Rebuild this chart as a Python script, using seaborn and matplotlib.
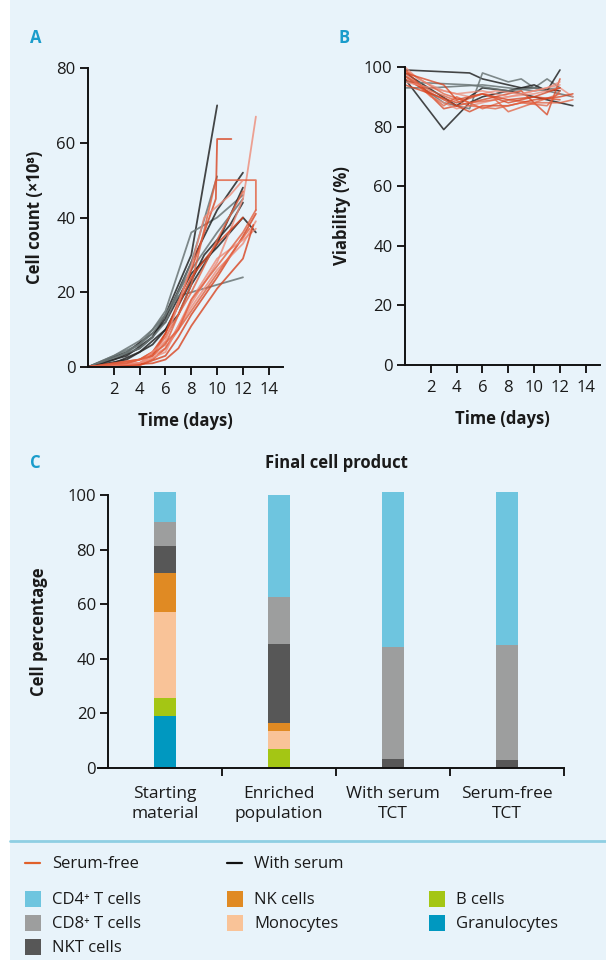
import pandas as pd
import seaborn as sns
import matplotlib.pyplot as plt
from matplotlib.patches import Rectangle
from matplotlib.lines import Line2D

# Panel A: cell count (x10^8) over time, one list per culture
serum_days = [
    [0, 2, 4, 5, 6, 8, 10],
    [0, 2, 4, 5, 6, 8, 10, 12],
    [0, 3, 5, 6, 8, 10, 12, 13],
    [0, 2, 4, 5, 7, 12],
    [0, 3, 5, 6, 8, 10, 12],
    [0, 4, 5, 6, 8, 10],
    [0, 3, 5, 7, 8, 10, 12],
    [0, 4, 5, 6, 8, 10, 12],
    [0, 2, 4, 6, 8, 9, 11, 12],
]
serum_counts = [
    [0, 2, 5, 8, 14, 30, 70],
    [0, 3, 7, 10, 15, 36, 40, 46],
    [0, 4, 9, 12, 25, 32, 40, 36],
    [0, 2, 6, 9, 19, 24],
    [0, 3, 8, 13, 28, 42, 52],
    [0, 5, 8, 12, 28, 51],
    [0, 2, 6, 14, 22, 33, 48],
    [0, 6, 10, 14, 26, 36, 45],
    [0, 1, 4, 10, 23, 30, 38, 44],
]
free_days = [
    [0, 4, 5, 6, 8, 9.9, 10, 11.1],
    [0, 4, 5, 6, 8, 10, 12, 12.3, 13],
    [0, 4, 6, 8, 9.9, 13, 13],
    [0, 4, 6, 7, 8, 10, 12, 13],
    [0, 4, 6, 8, 10, 12, 13],
    [0, 4, 5, 6, 8, 10, 12.5],
    [0, 3, 5, 6, 8, 10, 12],
    [0, 4, 6, 8, 10, 12, 13],
    [0, 4, 5, 6, 8, 10, 12],
    [0, 5, 6, 7, 8, 10, 12, 12.8],
    [0, 4, 6, 8, 9, 11, 12],
    [0, 3, 5, 7, 8, 10, 12, 13],
]
free_counts = [
    [0, 2, 4, 9, 26, 45, 61, 61],
    [0, 1, 2, 5, 17, 28, 45, 51, 67],
    [0, 1, 6, 22, 50, 50, 42],
    [0, 0.5, 3, 8, 14, 24, 35, 41],
    [0, 1, 5, 16, 26, 33, 39],
    [0, 0.5, 2, 5, 15, 25, 37],
    [0, 1, 3, 9, 24, 33, 40],
    [0, 1, 4, 18, 29, 34, 37],
    [0, 2, 4, 8, 20, 34, 47],
    [0, 1, 2, 5, 11, 21, 29, 38],
    [0, 1, 7, 27, 40, 46, 50],
    [0, 1, 3, 10, 18, 27, 36, 42],
]

# Panel B: viability (%)
serum_via_days = [
    [0, 5, 6, 8, 9, 10, 12],
    [0, 3, 5, 6, 8, 9, 10, 11, 12],
    [0, 3, 5, 6, 8, 10, 12, 13],
    [0, 2, 6, 8, 10, 12],
    [0, 4, 6, 8, 10, 11, 12],
    [0, 5, 8, 10, 12, 13],
]
serum_via = [
    [99, 98, 96, 94, 93, 93, 92],
    [97, 88, 86, 98, 95, 96, 93, 96, 93],
    [96, 79, 88, 90, 92, 90, 88, 87],
    [93, 93, 94, 93, 92, 93],
    [98, 87, 93, 92, 94, 92, 99],
    [95, 94, 92, 93, 91, 90],
]
free_via_days = [
    [0, 3, 5, 7, 9, 11, 12],
    [0, 2, 4, 6, 8, 10, 12, 13],
    [0, 3, 4, 6, 8, 10, 12],
    [0, 3, 5, 6, 8, 10, 12, 13],
    [0, 2, 4, 6, 8, 10, 12],
    [0, 3, 5, 7, 8, 10, 12, 13],
    [0, 4, 6, 8, 10, 12],
    [0, 1, 3, 5, 7, 9, 11, 12],
    [0, 2, 5, 7, 9, 11, 12],
    [0, 3, 4, 6, 8, 10, 12],
]
free_via = [
    [99, 86, 88, 90, 92, 84, 96],
    [98, 90, 86, 88, 90, 91, 93, 90],
    [97, 87, 90, 86, 89, 88, 91],
    [96, 89, 85, 87, 87, 89, 90, 91],
    [95, 93, 91, 92, 90, 92, 94],
    [99, 91, 88, 89, 85, 88, 88, 89],
    [94, 88, 91, 89, 90, 89],
    [100, 96, 92, 90, 92, 91, 93, 95],
    [97, 92, 87, 86, 88, 87, 92],
    [98, 94, 89, 91, 88, 90, 93],
]

# Panel C: final cell product composition (%)
samples = ['Starting\nmaterial', 'Enriched\npopulation', 'With serum\nTCT', 'Serum-free\nTCT']
cell_types = ['Granulocytes', 'B cells', 'Monocytes', 'NK cells', 'NKT cells',
              'CD8⁺ T cells', 'CD4⁺ T cells']
granulocytes = [19.0, 0, 0, 0]
b_cells = [6.5, 7.1, 0, 0]
monocytes = [31.8, 6.6, 0, 0]
nk_cells = [14.3, 2.9, 0, 0]
nkt_cells = [9.9, 29.0, 3.4, 3.1]
cd8_cells = [8.5, 17.2, 41.1, 42.1]
cd4_cells = [11.0, 37.1, 56.5, 55.8]

colors = {
    'CD4⁺ T cells': '#6ec5df',
    'CD8⁺ T cells': '#9d9e9e',
    'NKT cells': '#575757',
    'NK cells': '#e08a23',
    'Monocytes': '#f9c398',
    'B cells': '#a4c614',
    'Granulocytes': '#0098c0',
}
BG = '#e8f3fa'
TEAL = '#1a9ccb'
W, H = 606, 960
FS = 12

sns.set_theme(style='ticks')
plt.rcParams['font.family'] = ['Open Sans', 'DejaVu Sans']
plt.rcParams['text.color'] = '#1a1a1a'
plt.rcParams['axes.labelcolor'] = '#1a1a1a'
plt.rcParams['xtick.color'] = '#1a1a1a'
plt.rcParams['ytick.color'] = '#1a1a1a'

fig = plt.figure(figsize=(W / 100, H / 100), dpi=100, facecolor='white')
fig.patches.append(Rectangle((10 / W, 0), 1, 1, transform=fig.transFigure,
                             facecolor=BG, edgecolor='none', zorder=-10))


def box(left, top, right, bottom):
    return [left / W, 1 - bottom / H, (right - left) / W, (bottom - top) / H]


def style_axis(ax):
    ax.set_facecolor('none')
    sns.despine(ax=ax)
    for s in ['left', 'bottom']:
        ax.spines[s].set_linewidth(1.4)
        ax.spines[s].set_color('#111111')
    ax.tick_params(which='major', direction='out', length=6, width=1.4,
                   labelsize=FS, pad=3)
    ax.tick_params(axis='x', which='major', pad=5)


# ---- A ----
ax_a = fig.add_axes(box(88, 68, 283, 367))
dark = ['#262626', '#6b7676']
reds = ['#d8431f', '#ee8b78', '#e2603f']
for i, (d, v) in enumerate(zip(serum_days, serum_counts)):
    sns.lineplot(x=d, y=v, ax=ax_a, color=dark[i % 2], lw=1.3, alpha=0.85,
                 estimator=None, sort=False)
for i, (d, v) in enumerate(zip(free_days, free_counts)):
    sns.lineplot(x=d, y=v, ax=ax_a, color=reds[i % 3], lw=1.3, alpha=0.8,
                 estimator=None, sort=False)
ax_a.set_xlim(0, 15.1)
ax_a.set_ylim(0, 80)
ax_a.set_xticks(range(2, 15, 2))
ax_a.set_yticks(range(0, 81, 20))
style_axis(ax_a)
ax_a.set_xlabel('Time (days)', fontsize=FS, fontweight='bold', labelpad=10)
ax_a.set_ylabel('Cell count (×10⁸)', fontsize=FS, fontweight='bold', labelpad=9)

# ---- B ----
ax_b = fig.add_axes(box(405, 67, 600, 365))
for i, (d, v) in enumerate(zip(serum_via_days, serum_via)):
    sns.lineplot(x=d, y=v, ax=ax_b, color=dark[i % 2], lw=1.2, alpha=0.85,
                 estimator=None, sort=False)
for i, (d, v) in enumerate(zip(free_via_days, free_via)):
    sns.lineplot(x=d, y=v, ax=ax_b, color=reds[i % 3], lw=1.2, alpha=0.75,
                 estimator=None, sort=False)
ax_b.set_xlim(0, 15.1)
ax_b.set_ylim(0, 100)
ax_b.set_xticks(range(2, 15, 2))
ax_b.set_yticks(range(0, 101, 20))
style_axis(ax_b)
ax_b.set_xlabel('Time (days)', fontsize=FS, fontweight='bold', labelpad=10)
ax_b.set_ylabel('Viability (%)', fontsize=FS, fontweight='bold', labelpad=9)

# ---- C ----
values = [granulocytes, b_cells, monocytes, nk_cells, nkt_cells, cd8_cells, cd4_cells]
rows = []
for t, vals in zip(cell_types, values):
    for s, v in zip(samples, vals):
        rows.append({'sample': s, 'type': t, 'value': v})
df = pd.DataFrame(rows)
df['type'] = pd.Categorical(df['type'], categories=cell_types, ordered=True)
df = df.sort_values(['sample', 'type'])
df['cum'] = df.groupby('sample')['value'].cumsum()

ax_c = fig.add_axes(box(98, 495, 564, 768))
for t in reversed(cell_types):
    sub = df[df['type'] == t]
    sns.barplot(data=sub, x='sample', y='cum', order=samples, color=colors[t],
                saturation=1, width=0.19, linewidth=0, ax=ax_c, clip_on=False)
ax_c.set_xlim(-0.59, 3.5)
ax_c.set_ylim(0, 100)
ax_c.set_yticks(range(0, 101, 20))
ax_c.set_xticks([0.5, 1.5, 2.5, 3.5])
ax_c.set_xticklabels([])
ax_c.set_xticks(range(4), minor=True)
ax_c.set_xticklabels(samples, minor=True, fontsize=12.5, linespacing=1.35)
style_axis(ax_c)
ax_c.spines['left'].set_position(('data', -0.5))
ax_c.tick_params(axis='x', which='minor', length=0, pad=13)
ax_c.set_xlabel('')
ax_c.set_ylabel('Cell percentage', fontsize=FS, fontweight='bold', labelpad=14)
fig.text(336 / W, 1 - 463 / H, 'Final cell product', fontsize=FS,
         fontweight='bold', ha='center', va='center')

# panel letters
for lab, x, y in [('A', 30, 38), ('B', 338, 38), ('C', 30, 463)]:
    fig.text(x / W, 1 - y / H, lab, color=TEAL, fontsize=FS,
             fontweight='bold', ha='left', va='center')

# ---- legend ----
fig.add_artist(Line2D([10 / W, 1], [1 - 841 / H] * 2, color='#8fcfe3', lw=2))
for lab, col, x in [('Serum-free', '#e0602a', 25), ('With serum', '#111111', 227)]:
    fig.add_artist(Line2D([x / W, (x + 15) / W], [1 - 863 / H] * 2, color=col, lw=1.6))
    fig.text((x + 27) / W, 1 - 864 / H, lab, fontsize=FS, va='center')

legend_cols = [(25, ['CD4⁺ T cells', 'CD8⁺ T cells', 'NKT cells']),
               (227, ['NK cells', 'Monocytes']),
               (429, ['B cells', 'Granulocytes'])]
row_y = [899, 923, 947]
for x, items in legend_cols:
    for t, y in zip(items, row_y):
        fig.patches.append(Rectangle((x / W, 1 - (y + 8) / H), 16 / W, 16 / H,
                                     transform=fig.transFigure,
                                     facecolor=colors[t], edgecolor='none'))
        fig.text((x + 27) / W, 1 - (y + 1) / H, t, fontsize=FS, va='center')

fig.savefig('out.png', dpi=100, facecolor=fig.get_facecolor())
